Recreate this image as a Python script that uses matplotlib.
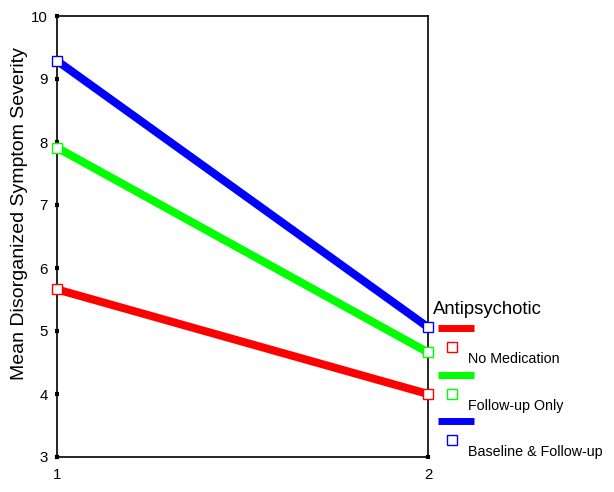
import matplotlib
matplotlib.use("Agg")
import matplotlib.pyplot as plt
from matplotlib.lines import Line2D

plt.rcParams['font.family'] = ['Liberation Sans', 'DejaVu Sans']

# data
time_points = [1, 2]
groups = ["No Medication", "Follow-up Only", "Baseline & Follow-up"]
no_med = [5.66, 4.00]
follow_only = [7.91, 4.66]
baseline_follow = [9.29, 5.06]
colors = ["#ff0000", "#00ff00", "#0000ff"]
series = [no_med, follow_only, baseline_follow]

W, H = 614, 492
fig = plt.figure(figsize=(W / 100, H / 100), dpi=100)
ax = fig.add_axes([57 / W, 1 - 457 / H, (428 - 57) / W, (457 - 16) / H])

for vals, c in zip(series, colors):
    ax.plot(time_points, vals, color=c, lw=5.8, solid_capstyle='butt', zorder=2)
    ax.plot(time_points, vals, ls='none', marker='s', ms=7, mfc='white',
            mec=c, mew=1.0, clip_on=False, zorder=3)

ax.set_xlim(1, 2)
ax.set_ylim(3, 10)
ax.set_xticks([1, 2])
ax.set_yticks(range(3, 11))
ax.tick_params(axis='both', direction='inout', length=3.5, width=3,
               labelsize=10.8, color='black')
ax.tick_params(axis='y', pad=5)
ax.tick_params(axis='x', pad=6)
for s in ax.spines.values():
    s.set_linewidth(1.2)
ax.set_ylabel("Mean Disorganized Symptom Severity", fontsize=14, va='center')
ax.yaxis.set_label_coords(-0.1, 0.551)

# legend drawn by hand in pixel coordinates
def fx(x):
    return x / W

def fy(y):
    return 1 - y / H

fig.text(fx(433), fy(309), "Antipsychotic", fontsize=13.3, va='center', ha='left')
row_y = [328, 375, 421]
for i, (name, c) in enumerate(zip(groups, colors)):
    y0 = row_y[i]
    fig.add_artist(Line2D([fx(438), fx(474)], [fy(y0), fy(y0)], color=c, lw=5,
                          solid_capstyle='butt', transform=fig.transFigure))
    fig.add_artist(Line2D([fx(452)], [fy(y0 + 19)], ls='none', marker='s', ms=6.5,
                          mfc='white', mec=c, mew=1.0, transform=fig.transFigure))
    fig.text(fx(468), fy(y0 + 31), name, fontsize=10.3, va='center', ha='left')

fig.savefig("out.png", dpi=100)
